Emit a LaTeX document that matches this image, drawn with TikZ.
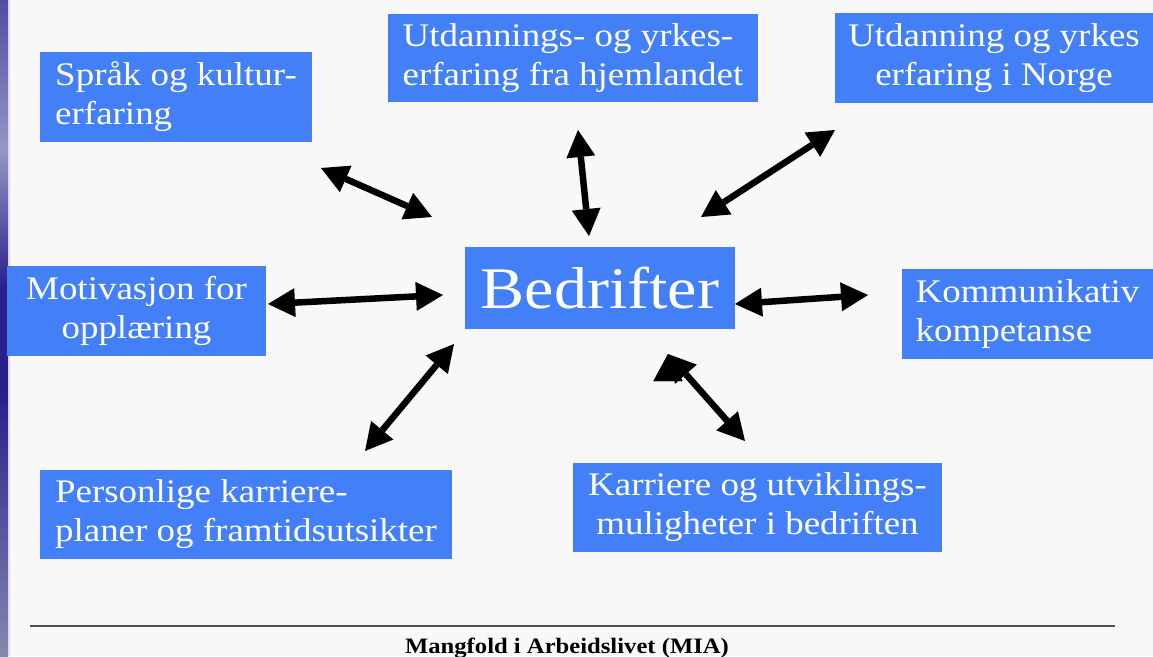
\documentclass[tikz,border=0pt]{standalone}
\usepackage{fontspec}
\setmainfont{Liberation Serif}[FakeStretch=1.12]
\usepackage{tikz}
\usetikzlibrary{arrows.meta,positioning}
\definecolor{boxblue}{RGB}{67,128,248}
\definecolor{slidebg}{RGB}{248,248,248}
\definecolor{rulegray}{RGB}{80,80,80}
\definecolor{stripdark}{RGB}{40,30,140}
\definecolor{striplight}{RGB}{150,150,195}

\begin{document}
\begin{tikzpicture}[x=1pt,y=-1pt,>={Triangle[length=27pt,width=29pt,line width=0pt]},
                    line width=6.5pt]
\tikzstyle{box}=[fill=boxblue,text=white,draw=none,anchor=north west,
                 inner xsep=12pt,inner ysep=0pt,outer sep=0pt]
\tikzset{font=\fontsize{33pt}{39pt}\selectfont}

        % slide background and left strip
        \useasboundingbox[fill=slidebg] (0,0) rectangle (1153,656);
        \shade[top color=stripdark!80,bottom color=striplight] (0,0) rectangle (8,150);
        \shade[top color=striplight,bottom color=stripdark] (0,150) rectangle (8,290);
        \fill[stripdark] (0,290) rectangle (8,390);
        \shade[top color=stripdark,bottom color=striplight!90!black] (0,390) rectangle (8,656);
        \fill[white!85!blue] (8,0) rectangle (9.5,656);

        \node[box,minimum width=272pt,minimum height=90pt,align=left]    (sprak) at (40,52)   {Språk og kultur-\\erfaring};
        \node[box,minimum width=370pt,minimum height=88pt,align=left]    (hjem)  at (388,14)  {Utdannings- og yrkes-\\erfaring fra hjemlandet};
        \node[box,minimum width=318pt,minimum height=90pt,align=center]  (norge) at (835,13)  {Utdanning og yrkes\\erfaring i Norge};
        \node[box,minimum width=270pt,minimum height=82pt,
              font=\fontsize{59pt}{66pt}\selectfont]                    (bedr)  at (465,247) {Bedrifter};
        \node[box,minimum width=259pt,minimum height=90pt,align=center]  (motiv) at (7,266)   {Motivasjon for\\opplæring};
        \node[box,minimum width=251pt,minimum height=90pt,align=left]    (komm)  at (902,269) {Kommunikativ\\kompetanse};
        \node[box,minimum width=412pt,minimum height=89pt,align=left]    (pers)  at (40,470)  {Personlige karriere-\\planer og framtidsutsikter};
        \node[box,minimum width=369pt,minimum height=89pt,align=center]  (karr)  at (573,463) {Karriere og utviklings-\\muligheter i bedriften};

        % arrow ends
        \coordinate (s1) at (321,168);  \coordinate (t1) at (432,217);
        \coordinate (s2) at (578,130);  \coordinate (t2) at (589,236);
        \coordinate (s3) at (835,130);  \coordinate (t3) at (701,217);
        \coordinate (s4) at (268,304);  \coordinate (t4) at (443,295);
        \coordinate (s5) at (735,304);  \coordinate (t5) at (868,295);
        \coordinate (s6) at (454,344);  \coordinate (t6) at (365,451);
        \coordinate (s7) at (668,354);  \coordinate (t7) at (745,441);

        \path[<->,draw=black]
        (s1)   edge            (t1)
        (s2)   edge            (t2)
        (s3)   edge            (t3)
        (s4)   edge            (t4)
        (s5)   edge            (t5)
        (s6)   edge            (t6)
        (s7)   edge            (t7)
        ; %end path

        % footer
        \draw[rulegray,line width=2pt] (30,626) -- (1115,626);
        \node[anchor=base,inner sep=0pt,font=\fontsize{22pt}{24pt}\selectfont\bfseries] (mia) at (567,653) {Mangfold i Arbeidslivet (MIA)};

\end{tikzpicture}
\end{document}
